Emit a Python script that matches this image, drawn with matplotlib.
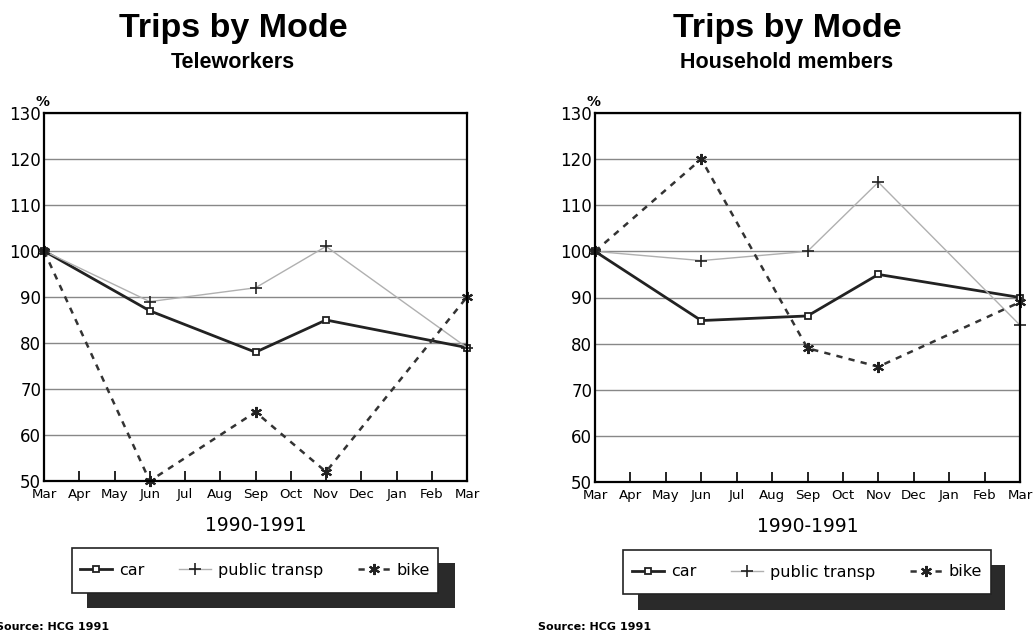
import matplotlib.pyplot as plt
from matplotlib.patches import Rectangle

plt.rcParams['font.family'] = ['DejaVu Sans']

months = ["Mar", "Apr", "May", "Jun", "Jul", "Aug", "Sep", "Oct", "Nov", "Dec", "Jan", "Feb", "Mar"]
mesure_pos = [0, 3, 6, 8, 12]

tele_car = [100, 87, 78, 85, 79]
tele_public = [100, 89, 92, 101, 79]
tele_bike = [100, 50, 65, 52, 90]

hh_car = [100, 85, 86, 95, 90]
hh_public = [100, 98, 100, 115, 84]
hh_bike = [100, 120, 79, 75, 89]

W, H = 1034, 637
fig = plt.figure(figsize=(W / 100, H / 100), dpi=100)
tittel_font = ['Liberation Sans', 'DejaVu Sans']


def px_axes(x0, x1, y0, y1):
    return fig.add_axes([x0 / W, 1 - y1 / H, (x1 - x0) / W, (y1 - y0) / H])


def tegn(ax, car, public, bike, undertittel, cx, legbox, shadow, src_x):
    ax.set_xlim(0, 12)
    ax.set_ylim(50, 130)
    ax.set_yticks(range(50, 131, 10))
    ax.yaxis.grid(True, color="#888888", lw=1)
    ax.set_axisbelow(True)
    ax.set_xticks(range(13))
    ax.set_xticklabels(months, fontsize=9.6)
    ax.tick_params(axis="x", direction="in", length=7, width=1.2, pad=5)
    ax.tick_params(axis="y", length=0, labelsize=12, pad=2)
    for s in ax.spines.values():
        s.set_linewidth(1.6)

    l1, = ax.plot(mesure_pos, car, color="#222222", lw=2, marker="s", ms=5,
                  mfc="white", mec="#222222", mew=1.3, label="car")
    l2, = ax.plot(mesure_pos, public, color="#b0b0b0", lw=1, marker="+", ms=8,
                  mec="#222222", mew=1.2, label="public transp")
    l3, = ax.plot(mesure_pos, bike, color="#333333", lw=1.8, ls=(0, (2.5, 2.5)),
                  marker=(6, 2, 0), ms=8, mec="#222222", mew=1.5, label="bike")
    for l in (l1, l2, l3):
        l.set_clip_on(False)

    ax.text(-0.02, 1.02, "%", transform=ax.transAxes, fontsize=10, fontweight="bold")
    ax.text(0.5, -0.12, "1990-1991", transform=ax.transAxes, ha="center",
            va="center", fontsize=13.5)

    fig.text(cx / W, 1 - 29 / H, "Trips by Mode", ha="center", va="center",
             fontsize=24.5, fontweight="bold", family=tittel_font)
    fig.text(cx / W, 1 - 63 / H, undertittel, ha="center", va="center",
             fontsize=15.5, fontweight="bold", family=tittel_font)

    sx0, sy0, sx1, sy1 = shadow
    fig.patches.append(Rectangle((sx0 / W, 1 - sy1 / H), (sx1 - sx0) / W, (sy1 - sy0) / H,
                                 transform=fig.transFigure, facecolor="#2a2a2a",
                                 edgecolor="none", zorder=1))
    bx0, by0, bx1, by1 = legbox
    fig.patches.append(Rectangle((bx0 / W, 1 - by1 / H), (bx1 - bx0) / W, (by1 - by0) / H,
                                 transform=fig.transFigure, facecolor="white",
                                 edgecolor="#222222", lw=1.2, zorder=2))
    leg = fig.legend(handles=[l1, l2, l3], loc="center",
                     bbox_to_anchor=((bx0 + bx1) / 2 / W, 1 - (by0 + by1) / 2 / H),
                     ncol=3, frameon=False, fontsize=11.5, handlelength=2.0,
                     columnspacing=2.2, handletextpad=0.4)
    leg.set_zorder(3)

    fig.text(src_x / W, 1 - 627 / H, "Source: HCG 1991", fontsize=8,
             fontweight="bold", va="center")


ax1 = px_axes(44, 467, 113, 481)
tegn(ax1, tele_car, tele_public, tele_bike, "Teleworkers", 233,
     (72, 548, 438, 593), (87, 563, 455, 608), -4)

ax2 = px_axes(595, 1020, 113, 482)
tegn(ax2, hh_car, hh_public, hh_bike, "Household members", 787,
     (623, 550, 991, 594), (638, 565, 1005, 610), 538)

fig.savefig("out.png", dpi=100)
